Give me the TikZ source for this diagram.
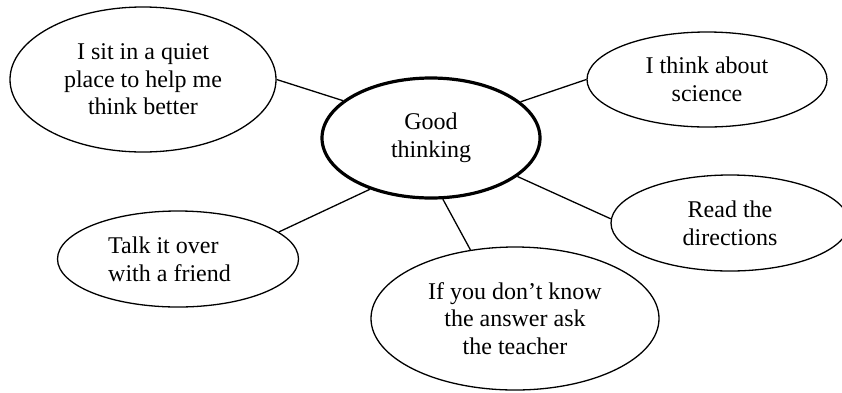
\documentclass[tikz,border=0pt]{standalone}
\usepackage{fontspec}
\setmainfont{Liberation Serif}
\usetikzlibrary{shapes.geometric}
\begin{document}
\begin{tikzpicture}[x=1pt,y=-1pt,
  idea/.style={ellipse,draw,line width=1.3pt,inner sep=0pt,align=center,
    font=\fontsize{24}{27.6}\selectfont},
  hub/.style={idea,line width=3.2pt},
  link/.style={line width=1.3pt}]
\useasboundingbox (0,0) rectangle (842,392);
\node[hub,minimum width=218pt,minimum height=120pt] (c) at (431,138) {Good\\thinking};
\node[idea,minimum width=266pt,minimum height=145pt] (tl) at (143,79.5) {I sit in a quiet\\place to help me\\think better};
\node[idea,minimum width=240pt,minimum height=95pt] (tr) at (707,79.5) {I think about\\science};
\node[idea,minimum width=238pt,minimum height=96pt] (r) at (730,223) {Read the\\directions};
\node[idea,minimum width=241pt,minimum height=96pt,align=left] (bl) at (178,259) {Talk it over\\with a friend\hspace*{17pt}};
\node[idea,minimum width=288pt,minimum height=143pt] (b) at (515,318.5) {If you don’t know\\the answer ask\\the teacher};
\draw[link] (tl.0) -- (c.157.8);
\draw[link] (c.22.5) -- (tr.180);
\draw[link] (c.-24.1) -- (r.178);
\draw[link] (c.-79) -- (b.123.3);
\draw[link] (c.-140.7) -- (bl.15);
\end{tikzpicture}
\end{document}
